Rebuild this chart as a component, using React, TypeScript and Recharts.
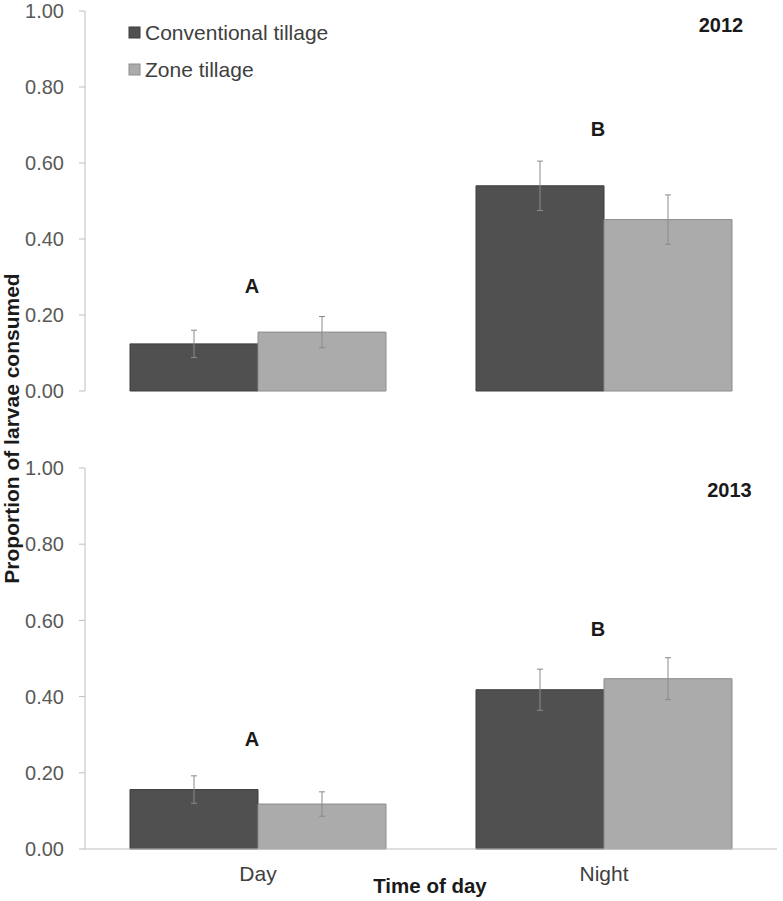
import React from "react";
import { BarChart, Bar, XAxis, YAxis, ErrorBar, ReferenceDot } from "recharts";

const categories = ["Day", "Night"];
const seriesNames = ["Conventional tillage", "Zone tillage"];
const seriesColors = ["#505050", "#ababab"];
const seriesStrokes = ["#3c3c3c", "#8c8c8c"];

const conv2012 = [0.124, 0.54];
const conv2012Err = [0.036, 0.065];
const zone2012 = [0.155, 0.451];
const zone2012Err = [0.041, 0.065];

const conv2013 = [0.156, 0.418];
const conv2013Err = [0.036, 0.054];
const zone2013 = [0.118, 0.447];
const zone2013Err = [0.032, 0.055];

const letters = ["A", "B"];
const letterY2012 = [0.276, 0.689];
const letterY2013 = [0.288, 0.577];

const yTicks = [0, 0.2, 0.4, 0.6, 0.8, 1.0];

const FONT = "'Liberation Sans', Arial, sans-serif";
const AXIS = "#bfbfbf";

function build(conv: number[], convErr: number[], zone: number[], zoneErr: number[]) {
  return categories.map((name, i) => ({
    name,
    conv: conv[i],
    convErr: convErr[i],
    zone: zone[i],
    zoneErr: zoneErr[i],
  }));
}

const data2012 = build(conv2012, conv2012Err, zone2012, zone2012Err);
const data2013 = build(conv2013, conv2013Err, zone2013, zone2013Err);

function Panel({
  data,
  letterY,
  height,
  marginTop,
  marginBottom,
  showX,
}: {
  data: any[];
  letterY: number[];
  height: number;
  marginTop: number;
  marginBottom: number;
  showX: boolean;
}) {
  return (
    <BarChart
      width={783}
      height={height}
      data={data}
      margin={{ top: marginTop, right: 6, left: 0, bottom: marginBottom }}
      barCategoryGap={45}
      barGap={0}
    >
      {showX && (
        <XAxis
          xAxisId="edge"
          type="number"
          domain={[0, 2]}
          ticks={[0, 1, 2]}
          height={0}
          tick={false}
          axisLine={false}
          tickLine={{ stroke: AXIS }}
          tickSize={7}
        />
      )}
      <XAxis
        dataKey="name"
        hide={!showX}
        height={showX ? 52 : 0}
        axisLine={{ stroke: AXIS }}
        tickLine={false}
        tickSize={6}
        tickMargin={11}
        tick={{ fill: "#404040", fontSize: 21, fontFamily: FONT }}
      />
      <YAxis
        width={85}
        domain={[0, 1]}
        ticks={yTicks}
        interval={0}
        tickFormatter={(v: number) => v.toFixed(2)}
        axisLine={{ stroke: AXIS }}
        tickLine={{ stroke: AXIS }}
        tickSize={6}
        tickMargin={15}
        tick={{ fill: "#595959", fontSize: 20, fontFamily: FONT }}
      />
      <Bar
        dataKey="conv"
        fill={seriesColors[0]}
        stroke={seriesStrokes[0]}
        strokeWidth={1}
        isAnimationActive={false}
      >
        <ErrorBar dataKey="convErr" width={3} stroke="#8a8a8a" strokeWidth={1} direction="y" />
      </Bar>
      <Bar
        dataKey="zone"
        fill={seriesColors[1]}
        stroke={seriesStrokes[1]}
        strokeWidth={1}
        isAnimationActive={false}
      >
        <ErrorBar dataKey="zoneErr" width={3} stroke="#8a8a8a" strokeWidth={1} direction="y" />
      </Bar>
      {categories.map((c, i) => (
        <ReferenceDot
          key={c}
          x={c}
          y={letterY[i]}
          r={0}
          fill="none"
          stroke="none"
          label={{
            value: letters[i],
            position: "center",
            dx: -6,
            fill: "#1a1a1a",
            fontSize: 20,
            fontWeight: "bold",
            fontFamily: FONT,
          }}
        />
      ))}
    </BarChart>
  );
}

export default function App() {
  return (
    <div
      style={{
        position: "absolute",
        left: 0,
        top: 0,
        width: 783,
        height: 901,
        background: "#fff",
        fontFamily: FONT,
      }}
    >
      <div style={{ position: "absolute", left: 0, top: 0 }}>
        <Panel data={data2012} letterY={letterY2012} height={420} marginTop={11} marginBottom={29} showX={false} />
      </div>
      <div style={{ position: "absolute", left: 0, top: 420 }}>
        <Panel data={data2013} letterY={letterY2013} height={481} marginTop={48} marginBottom={0} showX={true} />
      </div>
      <svg
        width={783}
        height={901}
        style={{ position: "absolute", left: 0, top: 0, pointerEvents: "none" }}
      >
        {seriesNames.map((s, i) => (
          <g key={s}>
            <rect
              x={129}
              y={27 + i * 37}
              width={11}
              height={11}
              fill={seriesColors[i]}
              stroke={seriesStrokes[i]}
            />
            <text x={145} y={40 + i * 37} fontSize={21} fill="#404040" fontFamily={FONT}>
              {s}
            </text>
          </g>
        ))}
        <text x={721} y={31.5} textAnchor="middle" fontSize={20} fontWeight="bold" fill="#1a1a1a" fontFamily={FONT}>
          2012
        </text>
        <text x={729.5} y={497} textAnchor="middle" fontSize={20} fontWeight="bold" fill="#1a1a1a" fontFamily={FONT}>
          2013
        </text>
        <text x={430} y={892.5} textAnchor="middle" fontSize={20.5} fontWeight="bold" fill="#1a1a1a" fontFamily={FONT}>
          Time of day
        </text>
        <text
          x={18.5}
          y={428.5}
          textAnchor="middle"
          transform="rotate(-90 18.5 428.5)"
          fontSize={21}
          fontWeight="bold"
          fill="#1a1a1a"
          fontFamily={FONT}
        >
          Proportion of larvae consumed
        </text>
      </svg>
    </div>
  );
}
